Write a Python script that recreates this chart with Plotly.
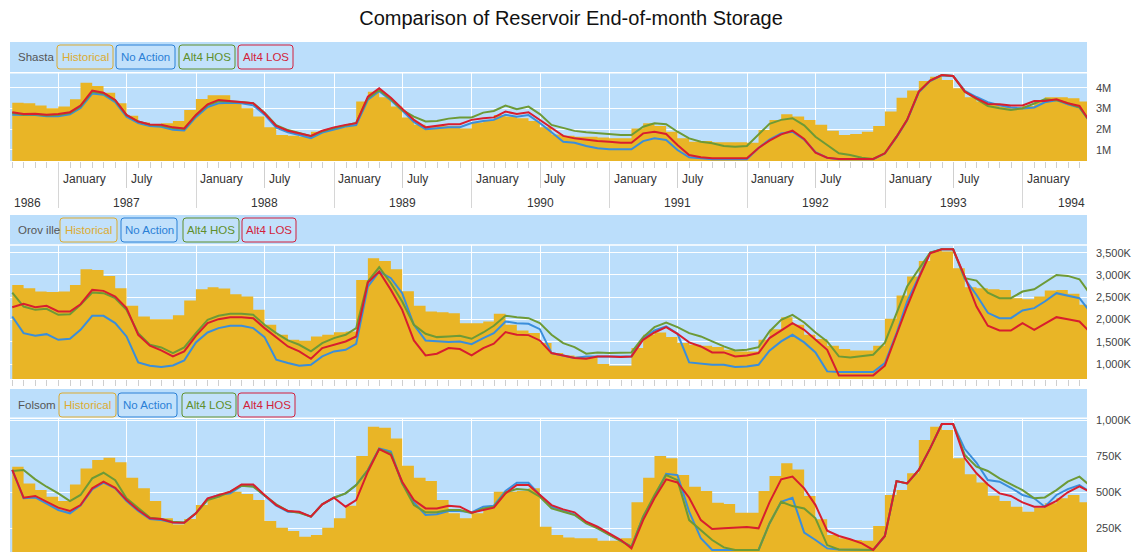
import pandas as pd
import plotly.graph_objects as go

# end-of-month dates, Aug 1986 .. Jun 1994 (storage lines use all 95,
# the historical steps use the first 94 and end at the next month-end)
MONTH_ENDS = pd.date_range("1986-09-01", periods=95, freq="MS") - pd.Timedelta(days=1)
X_RANGE = ["1986-08-25", "1994-06-20"]

# ---- storage in thousand acre-feet (TAF), grouped by calendar year ----
SHASTA_HIST = [
    3280, 3250, 3140, 3010, 3090,
    3440, 4240, 4080, 3760, 3250, 2650, 2320, 2250, 2290, 2400, 2930, 3460,
    3630, 3630, 3360, 3010, 2610, 2090, 1720, 1690, 1640, 1880, 1960, 2080,
    2190, 3340, 3810, 3540, 3090, 2570, 2210, 2090, 2160, 2160, 2040, 2320,
    2450, 2690, 2610, 2530, 2400, 2090, 1750, 1690, 1640, 1640, 1600, 1560,
    1560, 2040, 2290, 2160, 1880, 1560, 1400, 1430, 1370, 1370, 1370, 1350,
    1960, 2450, 2720, 2610, 2450, 2210, 1930, 1720, 1770, 1880, 2160, 2850,
    3520, 3860, 4320, 4530, 4370, 3970, 3540, 3330, 3170, 3090, 3010, 3120,
    3360, 3540, 3540, 3490, 3330,
]
SHASTA_NO_ACTION = [
    2700, 2680, 2680, 2620, 2620,
    2720, 3020, 3720, 3660, 3300, 2600, 2300, 2150, 2120, 1980, 1940, 2580,
    3070, 3250, 3280, 3250, 3150, 2700, 2070, 1850, 1720, 1570, 1840, 1990,
    2130, 2200, 3420, 3830, 3400, 2900, 2350, 2000, 2050, 2100, 2100, 2300,
    2400, 2450, 2700, 2600, 2680, 2300, 1850, 1400, 1350, 1190, 1080, 1030,
    1030, 1030, 1430, 1560, 1480, 1000, 650, 600, 550, 550, 550, 550,
    1100, 1500, 1800, 1880, 1500, 900, 620, 560, 560, 560, 560, 830,
    1620, 2430, 3780, 4320, 4590, 4560, 3850, 3550, 3300, 3150, 3050, 3000,
    3050, 3300, 3400, 3200, 3050, 2300,
]
SHASTA_ALT4_HOS = [
    2780, 2700, 2720, 2660, 2680,
    2780, 3100, 3800, 3720, 3380, 2680, 2370, 2220, 2180, 2060, 2010, 2660,
    3160, 3360, 3340, 3310, 3250, 2790, 2200, 1960, 1820, 1660, 1900, 2060,
    2180, 2300, 3500, 3890, 3450, 2930, 2610, 2370, 2400, 2510, 2570, 2570,
    2800, 2880, 3140, 2960, 3090, 2730, 2210, 2050, 1920, 1850, 1800, 1770,
    1720, 1720, 2120, 2290, 2240, 1880, 1560, 1400, 1320, 1190, 1160, 1190,
    1720, 2260, 2450, 2530, 2190, 1640, 1240, 840, 760, 630, 570, 840,
    1640, 2450, 3810, 4340, 4610, 4560, 3810, 3440, 3120, 3010, 2930, 3010,
    3250, 3440, 3400, 3250, 3050, 2300,
]
SHASTA_ALT4_LOS = [
    2820, 2730, 2750, 2700, 2730,
    2820, 3140, 3860, 3760, 3410, 2690, 2370, 2230, 2210, 2090, 2040, 2690,
    3200, 3410, 3360, 3310, 3250, 2770, 2160, 1930, 1800, 1680, 1930, 2090,
    2210, 2290, 3570, 3970, 3520, 3000, 2450, 2090, 2160, 2240, 2240, 2450,
    2530, 2570, 2850, 2730, 2820, 2450, 2040, 1680, 1560, 1480, 1430, 1400,
    1350, 1350, 1800, 1880, 1770, 1240, 760, 650, 600, 600, 600, 600,
    1100, 1450, 1750, 1930, 1530, 870, 630, 570, 570, 570, 570, 840,
    1640, 2450, 3810, 4340, 4610, 4560, 3810, 3490, 3220, 3200, 3140, 3140,
    3360, 3360, 3440, 3250, 3120, 2300,
]

OROVILLE_HIST = [
    2776, 2702, 2627, 2619, 2627,
    2776, 3127, 3112, 2978, 2702, 2306, 2067, 2007, 2007, 2097, 2425, 2679,
    2724, 2695, 2567, 2515, 2216, 1880, 1656, 1544, 1522, 1618, 1656, 1716,
    1731, 2888, 3374, 3314, 3127, 2634, 2306, 2179, 2165, 2142, 1918, 1918,
    1955, 2127, 1880, 1753, 1694, 1470, 1246, 1193, 1171, 1171, 999, 962,
    962, 1358, 1656, 1708, 1604, 1470, 1432, 1410, 1380, 1320, 1283, 1283,
    1544, 1783, 2052, 1880, 1656, 1559, 1410, 1335, 1305, 1305, 1410, 2015,
    2537, 2963, 3314, 3538, 3523, 3150, 2724, 2702, 2679, 2664, 2478, 2455,
    2515, 2649, 2664, 2575, 2328,
]
OROVILLE_NO_ACTION = [
    2067, 1694, 1634, 1671, 1544,
    1567, 1768, 2082, 2082, 1918, 1619, 1037, 962, 932, 969, 1081, 1485,
    1708, 1806, 1858, 1858, 1806, 1604, 1096, 1022, 962, 984, 1171, 1283,
    1320, 1455, 2739, 3075, 2926, 2590, 1880, 1529, 1507, 1492, 1507, 1447,
    1582, 1694, 1955, 1918, 1903, 1783, 1246, 1193, 1134, 1171, 1171, 1171,
    1171, 1171, 1582, 1753, 1843, 1679, 1037, 1007, 984, 984, 932, 947,
    984, 1300, 1507, 1656, 1485, 1261, 835, 820, 820, 820, 820, 1022,
    1694, 2403, 2963, 3500, 3575, 3575, 2910, 2550, 2150, 2030, 2030, 2201,
    2254, 2403, 2590, 2530, 2478, 2150,
]
OROVILLE_ALT4_HOS = [
    2605, 2291, 2216, 2239, 2104,
    2119, 2328, 2605, 2590, 2478, 2216, 1694, 1432, 1373, 1246, 1373, 1694,
    1992, 2082, 2127, 2127, 2104, 1880, 1694, 1529, 1432, 1283, 1470, 1582,
    1656, 1806, 2851, 3172, 2814, 2403, 1880, 1679, 1604, 1619, 1634, 1567,
    1708, 1858, 2082, 2052, 2030, 1918, 1656, 1470, 1380, 1231, 1261, 1246,
    1246, 1261, 1604, 1828, 1933, 1828, 1694, 1619, 1507, 1395, 1305, 1320,
    1380, 1731, 1992, 2104, 1933, 1708, 1507, 1171, 1149, 1171, 1208, 1480,
    2120, 2739, 3130, 3500, 3575, 3575, 2926, 2873, 2600, 2478, 2478, 2627,
    2679, 2829, 3000, 2978, 2903, 2550,
]
OROVILLE_ALT4_LOS = [
    2276, 2351, 2276, 2306, 2179,
    2179, 2343, 2664, 2642, 2515, 2254, 1656, 1410, 1305, 1171, 1283, 1634,
    1918, 2007, 2052, 2052, 2030, 1806, 1604, 1395, 1283, 1119, 1358, 1432,
    1507, 1619, 2829, 3075, 2664, 2216, 1529, 1193, 1231, 1358, 1335, 1193,
    1358, 1455, 1716, 1656, 1649, 1529, 1246, 1193, 1134, 1119, 1171, 1171,
    1156, 1171, 1544, 1708, 1828, 1679, 1485, 1395, 1261, 1261, 1171, 1193,
    1246, 1582, 1753, 1918, 1768, 1544, 1320, 745, 745, 745, 745, 962,
    1656, 2291, 2926, 3486, 3575, 3575, 2963, 2291, 1858, 1753, 1753, 1918,
    1768, 1903, 2052, 2007, 1955, 1700,
]

FOLSOM_HIST = [
    677, 561, 515, 469, 439,
    554, 665, 723, 739, 707, 601, 527, 439, 319, 277, 314, 411,
    458, 492, 504, 487, 446, 301, 254, 231, 192, 204, 254, 319,
    407, 751, 954, 947, 873, 684, 601, 578, 446, 354, 319, 354,
    388, 504, 504, 508, 527, 261, 204, 187, 181, 181, 164, 164,
    181, 430, 601, 751, 735, 619, 538, 508, 427, 418, 358, 358,
    508, 612, 700, 658, 474, 312, 204, 181, 169, 164, 266, 481,
    515, 631, 861, 954, 931, 735, 624, 568, 476, 439, 400, 365,
    393, 423, 458, 481, 430,
]
FOLSOM_NO_ACTION = [
    654, 458, 464, 423, 377,
    354, 407, 520, 566, 527, 439, 370, 314, 307, 291, 289, 354,
    453, 481, 492, 543, 543, 474, 407, 365, 361, 331, 416, 462,
    492, 550, 654, 804, 781, 561, 430, 342, 347, 370, 370, 361,
    400, 407, 508, 566, 566, 481, 400, 370, 347, 291, 254, 208,
    164, 123, 331, 469, 628, 619, 365, 181, 100, 100, 100, 100,
    100, 284, 434, 462, 220, 169, 111, 104, 104, 104, 100, 197,
    577, 561, 654, 804, 972, 972, 799, 704, 584, 573, 531, 481,
    458, 400, 481, 522, 550, 500,
]
FOLSOM_ALT4_LOS = [
    647, 654, 589, 538, 492,
    439, 481, 596, 635, 584, 458, 388, 324, 314, 296, 291, 354,
    446, 469, 504, 545, 538, 481, 416, 370, 358, 331, 416, 462,
    492, 550, 654, 799, 769, 561, 411, 361, 361, 377, 377, 354,
    388, 400, 499, 522, 515, 469, 388, 365, 342, 284, 250, 204,
    162, 123, 331, 481, 619, 584, 307, 238, 169, 118, 100, 100,
    100, 284, 434, 404, 388, 319, 134, 104, 104, 104, 100, 197,
    577, 561, 654, 804, 972, 972, 758, 677, 647, 596, 554, 515,
    458, 464, 515, 573, 608, 540,
]
FOLSOM_ALT4_HOS = [
    654, 462, 474, 434, 393,
    370, 411, 527, 573, 531, 446, 377, 319, 314, 291, 289, 354,
    458, 481, 504, 554, 554, 481, 411, 370, 365, 331, 416, 462,
    400, 446, 642, 799, 758, 573, 446, 388, 388, 407, 400, 358,
    377, 393, 492, 550, 550, 481, 411, 381, 361, 296, 261, 215,
    169, 111, 307, 458, 589, 568, 462, 307, 245, 250, 254, 259,
    250, 430, 589, 608, 527, 411, 234, 197, 174, 146, 100, 197,
    577, 561, 654, 804, 972, 972, 735, 631, 554, 492, 474, 430,
    400, 400, 440, 500, 540, 500,
]

SHASTA_TICKS = [1000, 2000, 3000, 4000]
SHASTA_TICKTEXT = ["1M", "2M", "3M", "4M"]
OROVILLE_TICKS = [1000, 1500, 2000, 2500, 3000, 3500]
OROVILLE_TICKTEXT = ["1,000K", "1,500K", "2,000K", "2,500K", "3,000K", "3,500K"]
FOLSOM_TICKS = [250, 500, 750, 1000]
FOLSOM_TICKTEXT = ["250K", "500K", "750K", "1,000K"]

BG = "#bbdefb"
HIST_COLOR = "#e9b526"
NA_COLOR = "#3a8edb"
GREEN = "#6d9a36"
RED = "#d81e2e"
LEGEND_TEXT = {HIST_COLOR: "#dcab30", NA_COLOR: "#2a80d6", GREEN: "#5f8f2c", RED: "#d21f3c"}
FONT = "Liberation Sans, Arial, sans-serif"
W, H = 1133, 552
PLOT_L, PLOT_R = 10, 1087

PANELS = [
    dict(name="Shasta", hist=SHASTA_HIST,
         lines=[("No Action", NA_COLOR, SHASTA_NO_ACTION),
                ("Alt4 HOS", GREEN, SHASTA_ALT4_HOS),
                ("Alt4 LOS", RED, SHASTA_ALT4_LOS)],
         top=42, bottom=161, yrange=[470, 6200], sep=4720,
         ticks=SHASTA_TICKS, ticktext=SHASTA_TICKTEXT,
         legend_y=57, boxes=[(57, 113), (116, 175), (179, 235), (238, 293)]),
    dict(name="Orov ille", hist=OROVILLE_HIST,
         lines=[("No Action", NA_COLOR, OROVILLE_NO_ACTION),
                ("Alt4 HOS", GREEN, OROVILLE_ALT4_HOS),
                ("Alt4 LOS", RED, OROVILLE_ALT4_LOS)],
         top=215, bottom=379, yrange=[664, 4345], sep=3673,
         ticks=OROVILLE_TICKS, ticktext=OROVILLE_TICKTEXT,
         legend_y=230, boxes=[(60, 117), (121, 177), (183, 239), (242, 296)]),
    dict(name="Folsom", hist=FOLSOM_HIST,
         lines=[("No Action", NA_COLOR, FOLSOM_NO_ACTION),
                ("Alt4 LOS", GREEN, FOLSOM_ALT4_LOS),
                ("Alt4 HOS", RED, FOLSOM_ALT4_HOS)],
         top=389, bottom=H, yrange=[86, 1215], sep=1012,
         ticks=FOLSOM_TICKS, ticktext=FOLSOM_TICKTEXT,
         legend_y=405, boxes=[(59, 116), (118, 177), (182, 236), (238, 295)]),
]


def py(px):
    return 1 - px / H


def px_x(px):
    return (px - PLOT_L) / (PLOT_R - PLOT_L)


def rounded_box(x0, x1, yc, half_h=12, r=3):
    """SVG path (paper coords) for a rounded rectangle given in pixels."""
    y0, y1 = yc - half_h, yc + half_h
    X = px_x
    return (f"M {X(x0 + r)},{py(y0)} L {X(x1 - r)},{py(y0)} Q {X(x1)},{py(y0)} {X(x1)},{py(y0 + r)} "
            f"L {X(x1)},{py(y1 - r)} Q {X(x1)},{py(y1)} {X(x1 - r)},{py(y1)} "
            f"L {X(x0 + r)},{py(y1)} Q {X(x0)},{py(y1)} {X(x0)},{py(y1 - r)} "
            f"L {X(x0)},{py(y0 + r)} Q {X(x0)},{py(y0)} {X(x0 + r)},{py(y0)} Z")


dates = [d.strftime("%Y-%m-%d") for d in MONTH_ENDS]
half_years = [d.strftime("%Y-%m-%d") for d in pd.date_range("1987-01-01", "1994-01-01", freq="6MS")]
jan_dates = [d.strftime("%Y-%m-%d") for d in pd.date_range("1987-01-01", "1994-01-01", freq="12MS")]
month_starts = [d.strftime("%Y-%m-%d") for d in pd.date_range("1986-09-01", "1994-06-01", freq="MS")]

fig = go.Figure()
shapes, annotations = [], []

for k, p in enumerate(PANELS, start=1):
    xa = "x" if k == 1 else f"x{k}"
    ya = "y" if k == 1 else f"y{k}"
    hist = p["hist"]
    fig.add_trace(go.Scatter(
        x=dates, y=hist + hist[-1:], mode="lines", line=dict(width=0, shape="hv", color=HIST_COLOR),
        fill="tozeroy", fillcolor=HIST_COLOR, xaxis=xa, yaxis=ya, hoverinfo="skip", showlegend=False))
    for label, color, vals in p["lines"]:
        fig.add_trace(go.Scatter(
            x=dates, y=vals, mode="lines", name=label, line=dict(color=color, width=2),
            xaxis=xa, yaxis=ya, showlegend=False))

    xaxis = dict(
        domain=[0, 1], anchor=ya, type="date", range=X_RANGE,
        tickvals=half_years, showticklabels=False,
        showgrid=True, gridcolor="rgba(255,255,255,0.95)", gridwidth=1,
        zeroline=False, showline=False, tickcolor="#cfcfcf",
    )
    if k == 1:
        xaxis.update(ticks="outside", ticklen=26,
                     minor=dict(tickvals=month_starts, ticks="outside", ticklen=6, tickcolor="#cfcfcf"))
    elif k == 2:
        xaxis.update(ticks="outside", ticklen=6,
                     minor=dict(tickvals=month_starts, ticks="outside", ticklen=6, tickcolor="#cfcfcf"))
    else:
        xaxis.update(ticks="")
    fig.layout["xaxis" if k == 1 else f"xaxis{k}"] = xaxis

    fig.layout["yaxis" if k == 1 else f"yaxis{k}"] = dict(
        domain=[py(p["bottom"]), py(p["top"])], anchor=xa, side="right", range=p["yrange"],
        tickvals=p["ticks"], ticktext=p["ticktext"], ticks="", ticklabelstandoff=8,
        showgrid=True, gridcolor="rgba(255,255,255,0.95)", gridwidth=1, zeroline=False,
        tickfont=dict(family=FONT, size=11, color="#444"),
    )

    # legend strip above the data area
    shapes.append(dict(type="rect", xref=f"{xa} domain", x0=0, x1=1, yref=ya,
                       y0=p["sep"], y1=p["yrange"][1], fillcolor=BG, line=dict(width=0), layer="above"))
    shapes.append(dict(type="line", xref=f"{xa} domain", x0=0, x1=1, yref=ya,
                       y0=p["sep"], y1=p["sep"], line=dict(color="white", width=1.5), layer="above"))

    annotations.append(dict(text=p["name"], xref="paper", yref="paper", x=px_x(16), y=py(p["legend_y"]),
                            xanchor="left", yanchor="middle", showarrow=False,
                            font=dict(family=FONT, size=11.5, color="#555")))
    entries = [("Historical", HIST_COLOR)] + [(lab, col) for lab, col, _ in p["lines"]]
    for (left, right), (lab, col) in zip(p["boxes"], entries):
        shapes.append(dict(type="path", xref="paper", yref="paper", path=rounded_box(left, right, p["legend_y"]),
                           line=dict(color=LEGEND_TEXT[col], width=1), fillcolor="rgba(255,255,255,0.1)",
                           layer="above"))
        annotations.append(dict(text=lab, xref="paper", yref="paper", x=px_x((left + right) / 2),
                                y=py(p["legend_y"]), xanchor="center", yanchor="middle", showarrow=False,
                                font=dict(family=FONT, size=11.5, color=LEGEND_TEXT[col])))

# long year-boundary ticks under the top panel
fig.add_trace(go.Scatter(x=dates[:1], y=SHASTA_HIST[:1], mode="markers", marker=dict(opacity=0),
                         xaxis="x4", yaxis="y", hoverinfo="skip", showlegend=False))
fig.layout["xaxis4"] = dict(overlaying="x", anchor="y", matches="x", type="date", range=X_RANGE,
                            tickvals=jan_dates, ticks="outside", ticklen=46, tickcolor="#d6d6d6",
                            showticklabels=False, showgrid=False, zeroline=False)

# month / year labels of the top panel
for d in half_years:
    annotations.append(dict(text="January" if d[5:7] == "01" else "July", xref="x", yref="paper",
                            x=d, y=py(179), xanchor="left", yanchor="middle", xshift=2, showarrow=False,
                            font=dict(family=FONT, size=12, color="#333")))
for year in range(1987, 1994):
    annotations.append(dict(text=str(year), xref="x", yref="paper", x=f"{year}-07-01", y=py(203),
                            xanchor="center", yanchor="middle", showarrow=False,
                            font=dict(family=FONT, size=12, color="#333")))
annotations.append(dict(text="1986", xref="x", yref="paper", x=X_RANGE[0], y=py(203), xanchor="left",
                        yanchor="middle", xshift=2, showarrow=False, font=dict(family=FONT, size=12, color="#333")))
annotations.append(dict(text="1994", xref="x", yref="paper", x=X_RANGE[1], y=py(203), xanchor="right",
                        yanchor="middle", showarrow=False, font=dict(family=FONT, size=12, color="#333")))

fig.update_layout(
    width=W, height=H,
    margin=dict(l=PLOT_L, r=W - PLOT_R, t=0, b=0),
    paper_bgcolor="white", plot_bgcolor=BG,
    title=dict(text="Comparison of Reservoir End-of-month Storage", x=0.504, xref="container",
               y=1 - 18 / H, yref="container", xanchor="center", yanchor="middle",
               font=dict(family=FONT, size=20, color="#111")),
    shapes=shapes, annotations=annotations,
    font=dict(family=FONT),
    hovermode="x",
)

# drop the page's default body margin so the figure sits at the window's corner
fig.write_html("out.html", config={"displayModeBar": False},
               post_script="document.body.style.margin='0';")
